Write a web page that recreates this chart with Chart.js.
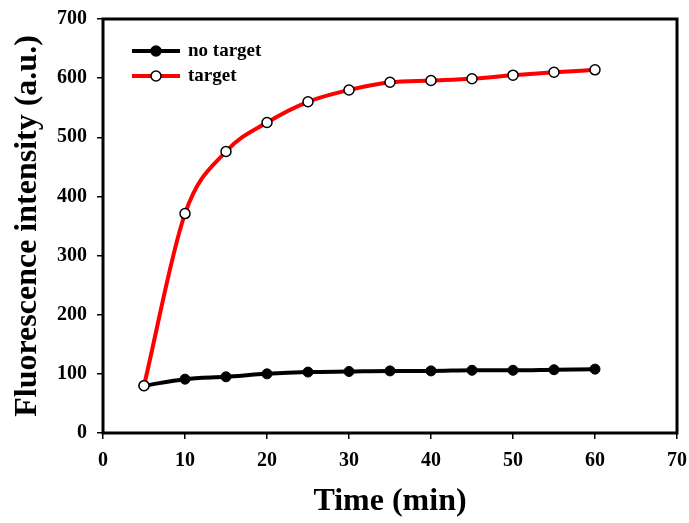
<!DOCTYPE html>
<html>
<head>
<meta charset="utf-8">
<script src="https://cdn.jsdelivr.net/npm/chart.js@4/dist/chart.umd.min.js"></script>
<style>
  html, body { margin: 0; padding: 0; background: #fff; }
  #wrap { width: 689px; height: 523px; }
</style>
</head>
<body>
<div id="wrap"><canvas id="c" width="689" height="523"></canvas></div>
<script>
const timeMin = [5, 10, 15, 20, 25, 30, 35, 40, 45, 50, 55, 60];
const noTarget = [80, 91, 95, 100, 103, 104, 105, 105, 106, 106, 107, 108];
const target = [80, 371, 476, 525, 560, 580, 593, 596, 599, 605, 610, 614];
const seriesNames = ['no target', 'target'];
const xTicks = [0, 10, 20, 30, 40, 50, 60, 70];
const yTicks = [0, 100, 200, 300, 400, 500, 600, 700];

const FONT = "'Liberation Serif', 'Times New Roman', serif";

const toXY = (ys) => timeMin.map((t, i) => ({ x: t, y: ys[i] }));

const framePlugin = {
  id: 'frame',
  afterDatasetsDraw(chart) {
    const { ctx, chartArea: a } = chart;
    ctx.save();
    ctx.strokeStyle = '#000';
    ctx.lineWidth = 3;
    ctx.strokeRect(a.left, a.top, a.right - a.left, a.bottom - a.top);
    ctx.restore();
  },
  afterDraw(chart) {
    const { ctx, chartArea: a } = chart;
    const items = [
      { label: seriesNames[0], line: '#000', fill: '#000' },
      { label: seriesNames[1], line: '#ff0000', fill: '#fff' }
    ];
    ctx.save();
    items.forEach((it, i) => {
      const y = a.top + 32 + i * 25;
      const x0 = a.left + 29;
      ctx.strokeStyle = it.line;
      ctx.lineWidth = 4;
      ctx.beginPath();
      ctx.moveTo(x0, y);
      ctx.lineTo(x0 + 48, y);
      ctx.stroke();
      ctx.beginPath();
      ctx.arc(x0 + 24, y, 5, 0, Math.PI * 2);
      ctx.fillStyle = it.fill;
      ctx.fill();
      ctx.lineWidth = 1.5;
      ctx.strokeStyle = '#000';
      ctx.stroke();
      ctx.fillStyle = '#000';
      ctx.font = "bold 19px " + FONT;
      ctx.textBaseline = 'middle';
      ctx.textAlign = 'left';
      ctx.fillText(it.label, x0 + 56, y);
    });
    ctx.restore();
  }
};

new Chart(document.getElementById('c'), {
  type: 'line',
  data: {
    datasets: [
      {
        label: seriesNames[1],
        data: toXY(target),
        borderColor: '#ff0000',
        borderWidth: 4,
        pointRadius: 5,
        pointBackgroundColor: '#fff',
        pointBorderColor: '#000',
        pointBorderWidth: 1.5,
        cubicInterpolationMode: 'monotone',
        order: 0
      },
      {
        label: seriesNames[0],
        data: toXY(noTarget),
        borderColor: '#000',
        borderWidth: 4,
        pointRadius: 5,
        pointBackgroundColor: '#000',
        pointBorderColor: '#000',
        pointBorderWidth: 1,
        cubicInterpolationMode: 'monotone',
        order: 1
      }
    ]
  },
  options: {
    responsive: false,
    animation: false,
    layout: { padding: { left: 0, right: 12, top: 19, bottom: 0 } },
    plugins: { legend: { display: false }, tooltip: { enabled: false } },
    scales: {
      x: {
        type: 'linear',
        min: 0, max: 70,
        afterBuildTicks: (axis) => { axis.ticks = xTicks.map(v => ({ value: v })); },
        afterFit: (axis) => { axis.height = 90; axis.paddingLeft = 0; axis.paddingRight = 0; },
        grid: { display: true, drawOnChartArea: false, drawTicks: true, tickLength: 6, color: '#000', lineWidth: 1.5 },
        border: { display: false },
        ticks: { color: '#000', padding: 10, font: { family: FONT, size: 20, weight: 'bold' }, maxRotation: 0 },
        title: { display: true, text: 'Time (min)', color: '#000', font: { family: FONT, size: 32, weight: 'bold' }, padding: { top: 0, bottom: 2 } }
      },
      y: {
        type: 'linear',
        min: 0, max: 700,
        afterBuildTicks: (axis) => { axis.ticks = yTicks.map(v => ({ value: v })); },
        afterFit: (axis) => { axis.width = 103; axis.paddingTop = 0; axis.paddingBottom = 0; },
        grid: { display: true, drawOnChartArea: false, drawTicks: true, tickLength: 6, color: '#000', lineWidth: 1.5 },
        border: { display: false },
        ticks: { color: '#000', padding: 10, font: { family: FONT, size: 20, weight: 'bold' } },
        title: { display: true, text: 'Fluorescence intensity (a.u.)', color: '#000', font: { family: FONT, size: 32, weight: 'bold' }, padding: { top: 9, bottom: 0 } }
      }
    }
  },
  plugins: [framePlugin]
});
</script>
</body>
</html>
